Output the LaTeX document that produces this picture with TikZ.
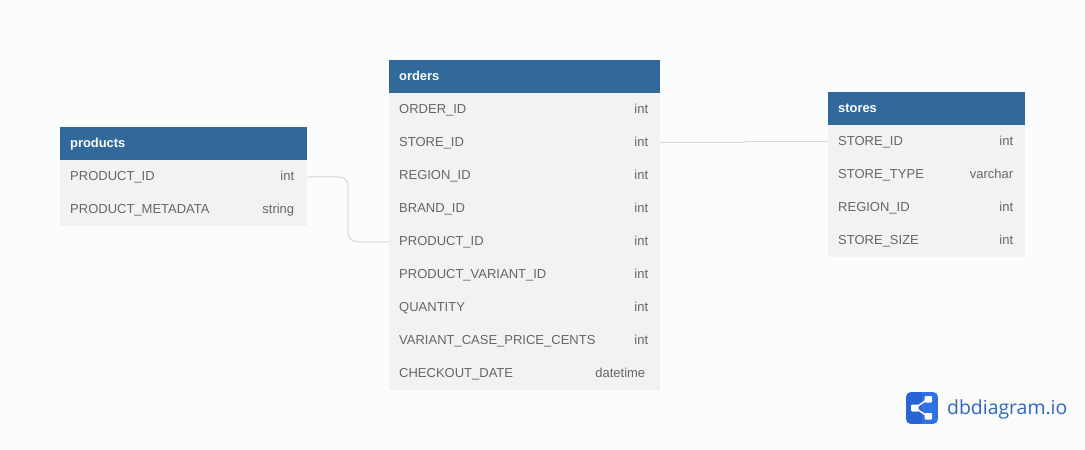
\documentclass[tikz,border=0pt]{standalone}
\usepackage{fontspec}
\setmainfont{Liberation Sans}
\newfontfamily\logofont{Open Sans}
\definecolor{pagebg}{HTML}{FCFCFC}
\definecolor{headbg}{HTML}{30699A}
\definecolor{rowbg}{HTML}{F2F2F2}
\definecolor{rowtext}{HTML}{666666}
\definecolor{linkline}{HTML}{D8D8D8}
\definecolor{logodark}{HTML}{2A63D4}
\definecolor{logolight}{HTML}{2F72E4}
\definecolor{logotext}{HTML}{2F66BE}
\tikzset{
  header/.style={fill=headbg,inner sep=0pt,draw=none,anchor=north west,minimum height=33pt},
  rowbox/.style={fill=rowbg,inner sep=0pt,draw=none,anchor=north west,minimum height=33.2pt},
  headtext/.style={text=white,font=\fontsize{12.9}{14}\selectfont\bfseries,anchor=base west,inner sep=0pt},
  nametext/.style={text=rowtext,font=\fontsize{13}{15}\selectfont,anchor=base west,inner sep=0pt},
  typetext/.style={text=rowtext,font=\fontsize{13}{15}\selectfont,anchor=base east,inner sep=0pt},
  link/.style={draw=linkline,line width=1pt},
}
% #1 node name, #2 left x, #3 top y, #4 width, #5 field, #6 type, #7 right inset
\newcommand{\dbrow}[7]{%
  \node[rowbox,minimum width=#4pt] (#1) at (#2,#3) {};
  \node[nametext] (#1n) at ([xshift=10pt,yshift=-3.6pt]#1.west) {#5};
  \node[typetext] (#1t) at ([xshift=-#7pt,yshift=-3.6pt]#1.east) {#6};
}
\newcommand{\dbhead}[5]{%
  \node[header,minimum width=#4pt] (#1) at (#2,#3) {};
  \node[headtext] (#1n) at ([xshift=10pt,yshift=-3.5pt]#1.west) {#5};
}
\begin{document}
\begin{tikzpicture}[x=1pt,y=-1pt]
\useasboundingbox[fill=pagebg] (0,0) rectangle (1085,450);
% products
\dbhead{p}{60}{127}{247}{products}
\dbrow{pa}{60}{160}{247}{PRODUCT\_ID}{int}{13}
\dbrow{pb}{60}{193}{247}{PRODUCT\_METADATA}{string}{13}
% orders
\dbhead{o}{389}{60}{271}{orders}
\dbrow{oa}{389}{93}{271}{ORDER\_ID}{int}{12}
\dbrow{ob}{389}{126}{271}{STORE\_ID}{int}{12}
\dbrow{oc}{389}{159}{271}{REGION\_ID}{int}{12}
\dbrow{od}{389}{192}{271}{BRAND\_ID}{int}{12}
\dbrow{oe}{389}{225}{271}{PRODUCT\_ID}{int}{12}
\dbrow{of}{389}{258}{271}{PRODUCT\_VARIANT\_ID}{int}{12}
\dbrow{og}{389}{291}{271}{QUANTITY}{int}{12}
\dbrow{oh}{389}{324}{271}{VARIANT\_CASE\_PRICE\_CENTS}{int}{12}
\dbrow{oi}{389}{357}{271}{CHECKOUT\_DATE}{datetime}{15}
% stores
\dbhead{s}{828}{92}{197}{stores}
\dbrow{sa}{828}{125}{197}{STORE\_ID}{int}{12}
\dbrow{sb}{828}{158}{197}{STORE\_TYPE}{varchar}{12}
\dbrow{sc}{828}{191}{197}{REGION\_ID}{int}{12}
\dbrow{sd}{828}{224}{197}{STORE\_SIZE}{int}{12}
% connectors
\coordinate (mc) at (348,200);
\draw[link,rounded corners=9pt] (pa.east) -| (mc |- oe.west) -- (oe.west);
\coordinate (md) at (744,140);
\draw[link] (ob.east) -- (md |- ob.east) -- (md |- sa.west) -- (sa.west);
% logo
\begin{scope}
\clip[rounded corners=5pt] (906,392) rectangle (938,424);
\fill[logodark] (906,392) rectangle (922,424);
\fill[logolight] (922,392) rectangle (938,424);
\end{scope}
\coordinate (lc) at (915,408);
\coordinate (lu) at (928,399);
\coordinate (ld) at (928,416.5);
\draw[white,line width=1.5pt] (lu) -- (lc) -- (ld);
\fill[white,rounded corners=1pt] (911,404.5) rectangle (918.5,411.5);
\fill[white,rounded corners=1pt] (924.5,396) rectangle (932,402.5);
\fill[white,rounded corners=1pt] (924.5,413) rectangle (932,419.5);
\node[text=logotext,font=\logofont\fontsize{19.4}{24}\selectfont,anchor=base west,inner sep=0pt] (logo) at (947,414.5) {dbdiagram.io};
\end{tikzpicture}
\end{document}
